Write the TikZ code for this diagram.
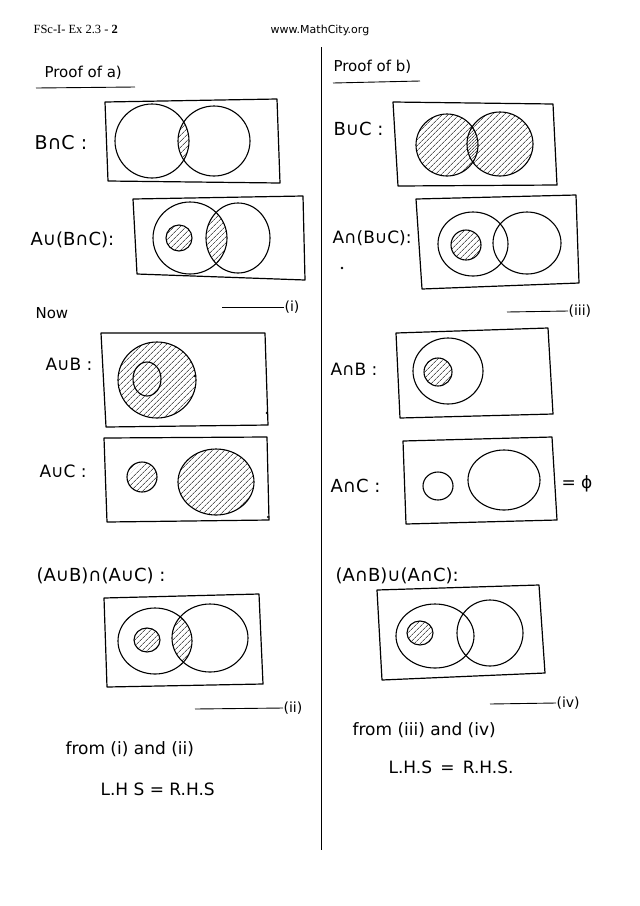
\documentclass[tikz,border=0pt]{standalone}
\usepackage{fontspec}
\setmainfont{Liberation Serif}
\newfontfamily\hand{DejaVu Sans}
\usetikzlibrary{patterns.meta}
\begin{document}
\begin{tikzpicture}[x=1pt,y=-1pt,line width=1.1pt,line join=round,
  lbl/.style={font=\hand\fontsize{18}{20}\selectfont,inner sep=0pt,anchor=west},
  txt/.style={font=\hand\fontsize{17}{19}\selectfont,inner sep=0pt,anchor=west},
  small/.style={font=\hand\fontsize{14}{16}\selectfont,inner sep=0pt,anchor=west},
  hatch/.style={pattern={Lines[angle=45,distance=4pt,line width=0.55pt]}},
  frame/.style={draw,line width=1.2pt},
  penline/.style={line width=0.9pt}]
\useasboundingbox (0,0) rectangle (640,906);
\fill[white] (0,0) rectangle (640,906);

% header
\node[anchor=west,inner sep=0pt,font=\fontsize{12.5}{14}\selectfont] (hdr) at (33,29) {FSc-I- Ex 2.3 - \textbf{2}};
\node[inner sep=0pt,font=\hand\fontsize{11}{13}\selectfont] (web) at (320,30) {www.MathCity.org};
\coordinate (divtop) at (321,47);
\coordinate (divbot) at (321,850);
\draw[line width=1pt] (divtop) -- (divbot);

% ================= LEFT COLUMN =================
\node[lbl,font=\hand\fontsize{15}{17}\selectfont] (proofa) at (44,73) {Proof of a)};
\draw[penline] (36,88) -- (135,87);

% B n C
\node[lbl,font=\hand\fontsize{19}{21}\selectfont] (l1) at (34,143) {B∩C :};
\draw[frame] (105,102) -- (277,99) -- (280,183) -- (108,181) -- cycle;
\begin{scope}\clip (152,141) ellipse [x radius=37,y radius=37];
  \fill[hatch] (214,141) ellipse [x radius=36,y radius=35];\end{scope}
\draw (152,141) ellipse [x radius=37,y radius=37];
\draw (214,141) ellipse [x radius=36,y radius=35];

% A U (B n C)
\node[lbl] (l2) at (30,240) {A∪(B∩C):};
\draw[frame] (133,199) -- (303,196) -- (305,280) -- (137,274) -- cycle;
\begin{scope}\clip (190,238) ellipse [x radius=37,y radius=36];
  \fill[hatch] (238,238) ellipse [x radius=32,y radius=35];\end{scope}
\fill[hatch] (179,238) circle [radius=13];
\draw (179,238) circle [radius=13];
\draw (190,238) ellipse [x radius=37,y radius=36];
\draw (238,238) ellipse [x radius=32,y radius=35];

% (i)
\node[small] (ri) at (284,307) {(i)};
\coordinate (ri0) at (222,307);
\draw[penline] (ri0) -- (ri.west);

\node[lbl,font=\hand\fontsize{15}{17}\selectfont] (now) at (35,313) {Now};

% A U B
\node[lbl,font=\hand\fontsize{17}{19}\selectfont] (l3) at (45,364) {A∪B :};
\draw[frame] (101,333) -- (265,333) -- (268,425) -- (106,427) -- cycle;
\fill[hatch] (157,380) ellipse [x radius=39,y radius=38];
\draw (157,380) ellipse [x radius=39,y radius=38];
\draw (147,379) ellipse [x radius=14,y radius=17];
\fill (195,376) circle [radius=1.4];
\fill (267,413) circle [radius=1.4];

% A U C
\node[lbl,font=\hand\fontsize{17}{19}\selectfont] (l4) at (39,471) {A∪C :};
\draw[frame] (104,438) -- (267,437) -- (269,520) -- (107,522) -- cycle;
\fill[hatch] (142,477) circle [radius=15];
\draw (142,477) circle [radius=15];
\fill[hatch] (216,482) ellipse [x radius=38,y radius=33];
\draw (216,482) ellipse [x radius=38,y radius=33];
\fill (268,517) circle [radius=1.1];

% (AUB) n (AUC)
\node[lbl] (l5) at (36,576) {(A∪B)∩(A∪C) :};
\draw[frame] (104,598) -- (259,594) -- (263,684) -- (107,687) -- cycle;
\begin{scope}\clip (155,641) ellipse [x radius=37,y radius=33];
  \fill[hatch] (210,638) ellipse [x radius=38,y radius=34];\end{scope}
\fill[hatch] (147,640) ellipse [x radius=13,y radius=12];
\draw (147,640) ellipse [x radius=13,y radius=12];
\draw (155,641) ellipse [x radius=37,y radius=33];
\draw (210,638) ellipse [x radius=38,y radius=34];

% (ii)
\node[small] (rii) at (283,708) {(ii)};
\coordinate (rii0) at (195,709);
\draw[penline] (rii0) -- (rii.west);

\node[txt] (from1) at (65,749) {from (i) and (ii)};
\node[txt] (lhs1) at (100,789) {L.H S = R.H.S};

% ================= RIGHT COLUMN =================
\node[lbl,font=\hand\fontsize{15}{17}\selectfont] (proofb) at (333,67) {Proof of b)};
\draw[penline] (333,83) -- (420,81);

% B U C
\node[lbl] (r1) at (333,129) {B∪C :};
\draw[frame] (393,102) -- (553,104) -- (557,185) -- (398,186) -- cycle;
\fill[hatch] (447,145) ellipse [x radius=31,y radius=31];
\fill[hatch] (500,144) ellipse [x radius=33,y radius=32];
\draw (447,145) ellipse [x radius=31,y radius=31];
\draw (500,144) ellipse [x radius=33,y radius=32];

% A n (B U C)
\node[lbl,font=\hand\fontsize{17}{19}\selectfont] (r2) at (332,238) {A∩(B∪C):};
\draw[frame] (416,199) -- (576,195) -- (579,283) -- (422,289) -- cycle;
\fill[hatch] (466,245) circle [radius=15];
\draw (466,245) circle [radius=15];
\draw (473,244) ellipse [x radius=35,y radius=32];
\draw (527,243) ellipse [x radius=34,y radius=31];
\fill (342,268) circle [radius=1.4];

% (iii)
\node[small] (riii) at (568,311) {(iii)};
\coordinate (riii0) at (507,312);
\draw[penline] (riii0) -- (riii.west);

% A n B
\node[lbl,font=\hand\fontsize{17}{19}\selectfont] (r3) at (330,369) {A∩B :};
\draw[frame] (396,333) -- (548,328) -- (553,414) -- (400,418) -- cycle;
\draw (448,371) ellipse [x radius=35,y radius=33];
\fill[hatch] (438,372) circle [radius=14];
\draw (438,372) circle [radius=14];

% A n C
\node[lbl] (r4) at (330,486) {A∩C :};
\draw[frame] (403,441) -- (552,437) -- (557,520) -- (406,524) -- cycle;
\draw (438,486) ellipse [x radius=15,y radius=14];
\draw (504,480) ellipse [x radius=36,y radius=30];
\node[lbl,font=\hand\fontsize{17}{19}\selectfont] (phi) at (561,484) {= ϕ};

% (AnB) U (AnC)
\node[lbl] (r5) at (335,576) {(A∩B)∪(A∩C):};
\draw[frame] (377,590) -- (539,585) -- (545,673) -- (382,680) -- cycle;
\fill[hatch] (420,633) ellipse [x radius=13,y radius=12];
\draw (420,633) ellipse [x radius=13,y radius=12];
\draw (435,636) ellipse [x radius=39,y radius=32];
\draw (490,633) ellipse [x radius=33,y radius=33];

% (iv)
\node[small] (riv) at (556,703) {(iv)};
\coordinate (riv0) at (490,704);
\draw[penline] (riv0) -- (riv.west);

\node[txt] (from2) at (352,730) {from (iii) and (iv)};
\node[txt] (lhs2) at (388,767) {L.H.S \,=\, R.H.S.};
\end{tikzpicture}
\end{document}
